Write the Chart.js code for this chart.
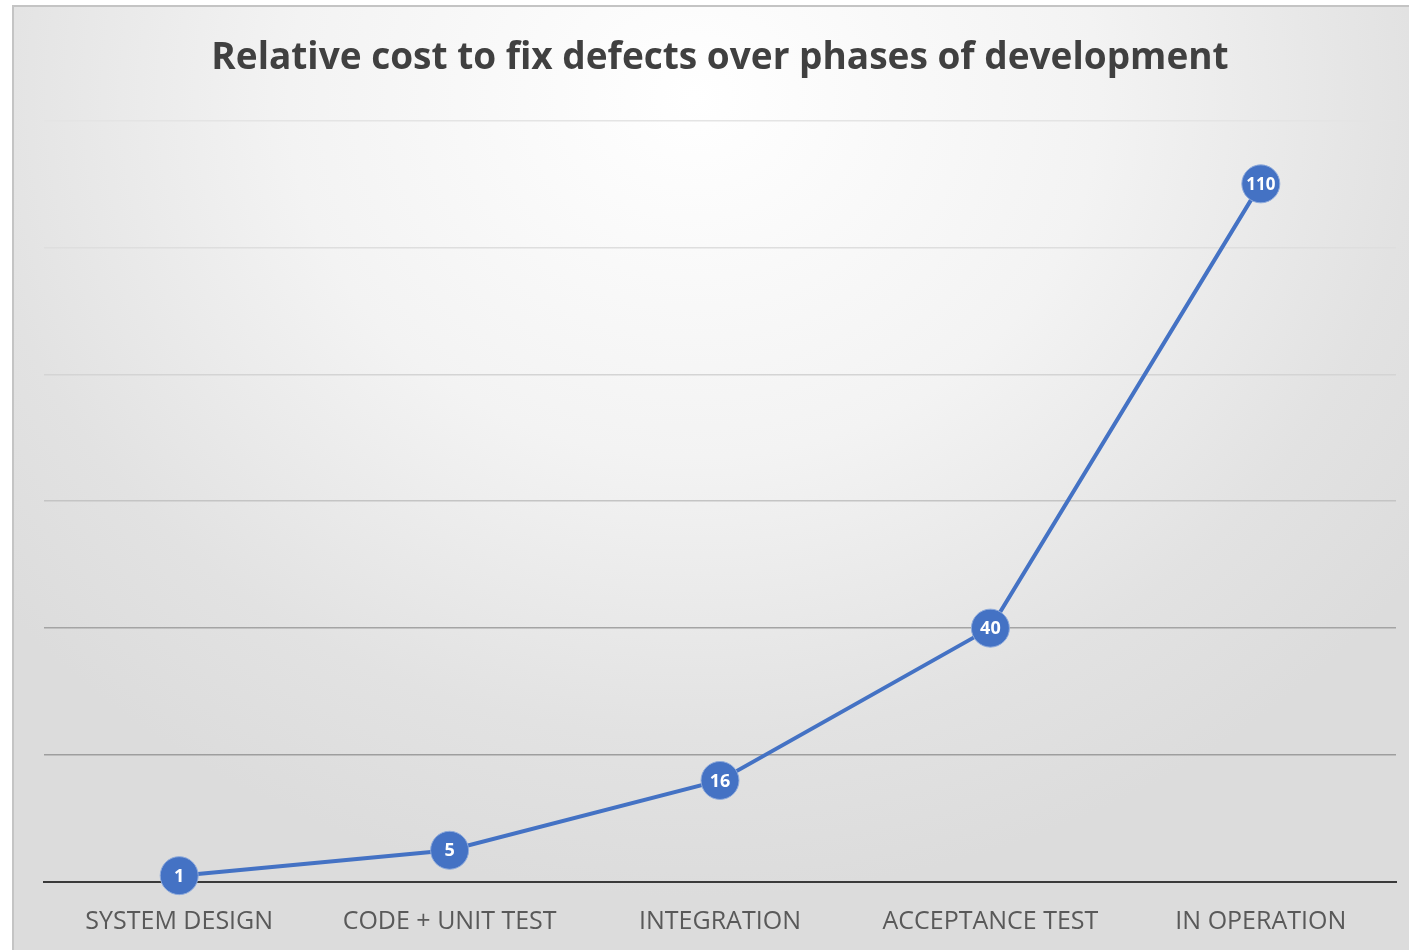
<!DOCTYPE html>
<html>
<head>
<meta charset="utf-8">
<script src="https://cdn.jsdelivr.net/npm/chart.js@4/dist/chart.umd.min.js"></script>
<style>
  html, body { margin: 0; padding: 0; background: #fff; overflow: hidden; }
  #frame {
    position: absolute; left: 12px; top: 5px; width: 1410px; height: 960px;
    border: 2px solid #c4c4c4;
    background: radial-gradient(ellipse 900px 800px at 680px 90px, #ffffff 0%, #f3f3f3 45%, #e2e2e2 80%, #dcdcdc 100%);
  }
  #wrap { position: absolute; left: 0; top: 0; width: 1409px; height: 950px; }
</style>
</head>
<body>
<div id="frame"></div>
<div id="wrap"><canvas id="costChart"></canvas></div>
<script>
const phases = ['SYSTEM DESIGN', 'CODE + UNIT TEST', 'INTEGRATION', 'ACCEPTANCE TEST', 'IN OPERATION'];
const relativeCost = [1, 5, 16, 40, 110];
const yTicks = [0, 20, 40, 60, 80, 100, 120];

// white numbers inside the markers
const pointLabels = {
    id: 'pointLabels',
    afterDatasetsDraw(chart) {
        const ctx = chart.ctx;
        const meta = chart.getDatasetMeta(0);
        ctx.save();
        ctx.fillStyle = '#ffffff';
        ctx.textAlign = 'center';
        ctx.textBaseline = 'middle';
        meta.data.forEach((pt, i) => {
            const txt = String(relativeCost[i]);
            ctx.font = 'bold ' + (txt.length > 2 ? 17 : 18) + 'px "Open Sans", sans-serif';
            ctx.fillText(txt, pt.x, pt.y + 1);
        });
        ctx.restore();
    }
};

function gridColor(c) {
    const v = c.tick ? c.tick.value : 0;
    if (v === 0) return 'rgba(0,0,0,0)';
    if (v >= 120) return '#e4e4e4';
    if (v >= 100) return '#dedede';
    if (v >= 80) return '#d4d4d4';
    if (v >= 60) return '#c4c4c4';
    if (v >= 40) return '#a4a4a4';
    return '#9e9e9e';
}

new Chart(document.getElementById('costChart').getContext('2d'), {
    type: 'line',
    data: {
        labels: phases,
        datasets: [{
            data: relativeCost,
            borderColor: '#4472C4',
            borderWidth: 4,
            backgroundColor: '#4472C4',
            pointBackgroundColor: '#4472C4',
            pointBorderColor: '#8eaadb',
            pointBorderWidth: 1,
            pointRadius: 19,
            pointHoverRadius: 19,
            fill: false,
            tension: 0,
            clip: false
        }]
    },
    options: {
        responsive: true,
        maintainAspectRatio: false,
        animation: false,
        layout: { autoPadding: false, padding: { left: 44, right: 13, top: 16, bottom: -12 } },
        scales: {
            x: {
                offset: true,
                grid: { display: false, drawTicks: false },
                border: { display: true, color: '#3a3a3a', width: 2 },
                ticks: {
                    color: '#595959',
                    padding: 25,
                    font: { family: '"Open Sans", sans-serif', size: 25 }
                }
            },
            y: {
                min: 0,
                max: 120,
                afterBuildTicks: (scale) => { scale.ticks = yTicks.map(v => ({ value: v })); },
                ticks: { display: false },
                grid: { color: gridColor, lineWidth: 1.5, drawTicks: false },
                border: { display: false }
            }
        },
        plugins: {
            legend: { display: false },
            tooltip: { enabled: false },
            title: {
                display: true,
                text: 'Relative cost to fix defects over phases of development',
                color: '#404040',
                font: { family: '"Open Sans", sans-serif', size: 37, weight: 'bold' },
                padding: { top: 20, bottom: 40 }
            }
        }
    },
    plugins: [pointLabels]
});
</script>
</body>
</html>
